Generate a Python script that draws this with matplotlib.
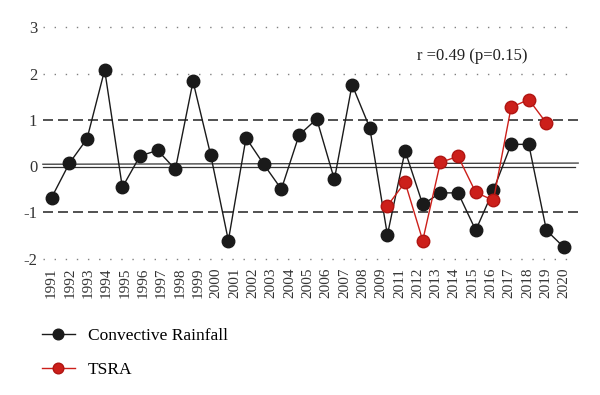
import matplotlib
matplotlib.use("Agg")
import matplotlib.pyplot as plt
import numpy as np

years = list(range(1991, 2021))
tick_labels = [str(y) for y in range(1991, 2010)] + [str(y) for y in range(2011, 2021)]

convective = [-0.68, 0.06, 0.59, 2.08, -0.46, 0.22, 0.34, -0.07, 1.83, 0.24,
              -1.61, 0.61, 0.04, -0.50, 0.67, 1.02, -0.29, 1.76, 0.83, -1.49,
              0.33, -0.83, -0.58, -0.58, -1.39, -0.52, 0.47, 0.47, -1.39, -1.76]
tsra_years = list(range(2010, 2020))
tsra = [-0.86, -0.35, -1.61, 0.08, 0.21, -0.57, -0.74, 1.27, 1.44, 0.93]

annotation = "r =0.49 (p=0.15)"

plt.rcParams['font.family'] = ['Liberation Serif', 'DejaVu Serif']

fig = plt.figure(figsize=(6.0, 3.95), dpi=100)
ax = fig.add_axes([40/600, 1-265/395, 540/600, 245/395])

xi = np.arange(len(years))
ti = np.array([years.index(y) for y in tsra_years])

# reference lines
ax.plot([-0.5, 29.2], [3, 3], color='#808080', lw=1.0, dashes=(1, 7))
ax.plot([-0.5, 29.2], [2, 2], color='#808080', lw=1.0, dashes=(1, 7))
ax.plot([-0.5, 29.2], [-2, -2], color='#808080', lw=1.0, dashes=(1, 7))
ax.plot([-0.5, 29.8], [1, 1], color='#333333', lw=1.2, dashes=(6, 3))
ax.plot([-0.5, 29.8], [-1, -1], color='#333333', lw=1.2, dashes=(6, 3))
ax.plot([-0.5, 29.6], [-0.02, -0.02], color='#333333', lw=0.9)
ax.plot([-0.5, 29.8], [0.04, 0.065], color='#333333', lw=0.9)

ax.plot(xi, convective, color='#1a1a1a', lw=1.0, marker='o', ms=9,
        mfc='#1a1a1a', mec='#1a1a1a', label='Convective Rainfall', zorder=3)
ax.plot(ti, tsra, color='#cc1f1a', lw=1.0, marker='o', ms=9,
        mfc='#cc1f1a', mec='#b01512', label='TSRA', zorder=4)

ax.text(23.8, 2.38, annotation, fontsize=12, ha='center', va='center', color='#222222')

ax.set_xlim(-0.66, 29.9)
ax.set_ylim(-2.14, 3.16)
ax.set_yticks([3, 2, 1, 0, -1, -2])
ax.set_yticklabels(['3', '2', '1', '0', '-1', '-2'], fontsize=12, color='#333333')
ax.set_xticks(np.linspace(0, 29, len(tick_labels)))
ax.set_xticklabels(tick_labels, rotation=90, fontsize=11, color='#333333')
ax.tick_params(length=0, pad=2)
for s in ax.spines.values():
    s.set_visible(False)

fig.legend(loc='upper left', bbox_to_anchor=(42/600, 1-328/395), frameon=False,
           fontsize=12.5, handlelength=1.9, handletextpad=0.75, labelspacing=1.0,
           borderpad=0, borderaxespad=0, markerscale=0.85)

fig.savefig('out.png', dpi=100)
